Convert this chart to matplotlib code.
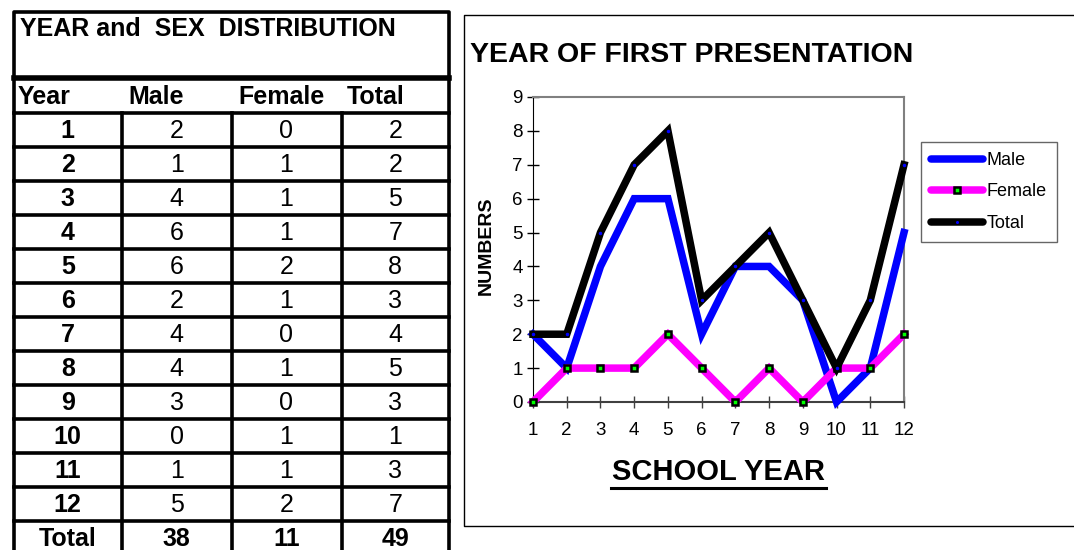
import numpy as np
import matplotlib.pyplot as plt
from matplotlib.lines import Line2D

plt.rcParams['font.family'] = ['Liberation Sans', 'DejaVu Sans']

years = list(range(1, 13))
male = [2, 1, 4, 6, 6, 2, 4, 4, 3, 0, 1, 5]
female = [0, 1, 1, 1, 2, 1, 0, 1, 0, 1, 1, 2]
total = [2, 2, 5, 7, 8, 3, 4, 5, 3, 1, 3, 7]
sum_row = ["Total", "38", "11", "49"]
header = ["Year", "Male", "Female", "Total"]

W, H = 1074, 550
fig = plt.figure(figsize=(W / 100, H / 100), dpi=100)

# overlay in pixel coordinates for the table and the chart frame
bg = fig.add_axes([0, 0, 1, 1])
bg.set_xlim(0, W)
bg.set_ylim(H, 0)
bg.axis("off")

lw = 2.6
col_x = [13.5, 122, 231.5, 341.5, 449]
row_h = 34
top_row = 112.5

# title box
bg.plot([13.5, 13.5, 449, 449], [78, 12, 12, 78], color="black", lw=lw, solid_capstyle="projecting")
bg.plot([13.5, 449], [78, 78], color="black", lw=4)
bg.text(20, 29, "YEAR and  SEX  DISTRIBUTION", fontsize=18, fontweight="bold", va="center", ha="left")

# header row
hx = [18, 128, 238, 347]
for x, h in zip(hx, header):
    bg.text(x, 97, h, fontsize=18, fontweight="bold", va="center", ha="left")

# grid lines
bg.plot([col_x[0], col_x[0]], [78, H + 5], color="black", lw=lw)
bg.plot([col_x[-1], col_x[-1]], [78, H + 5], color="black", lw=lw)
for k in range(13):
    y = top_row + k * row_h
    bg.plot([col_x[0], col_x[-1]], [y, y], color="black", lw=lw)
for x in col_x[1:-1]:
    bg.plot([x, x], [top_row, H + 5], color="black", lw=lw)

centers = [(col_x[i] + col_x[i + 1]) / 2 for i in range(4)]
rows = [[str(y), str(m), str(f), str(t)] for y, m, f, t in zip(years, male, female, total)]
rows.append(sum_row)
for r, vals in enumerate(rows):
    yc = top_row + (r + 0.5) * row_h + 1
    last = r == len(rows) - 1
    for c, v in enumerate(vals):
        bold = c == 0 or last
        bg.text(centers[c], yc, v, fontsize=18, fontweight="bold" if bold else "normal",
                va="center", ha="center")

# chart panel frame
bg.plot([1090, 463.5, 463.5, 1090], [15, 15, 526, 526], color="black", lw=1)

bg.text(470, 55, "YEAR OF FIRST PRESENTATION", fontsize=20.5, fontweight="bold", va="center", ha="left")
bg.text(486, 246, "NUMBERS", fontsize=14, fontweight="bold", rotation=90, va="center", ha="center")
bg.text(718.5, 472, "SCHOOL YEAR", fontsize=21, fontweight="bold", va="center", ha="center")
bg.plot([611, 826], [488, 488], color="black", lw=2.2)

# line chart
ax = fig.add_axes([533 / W, (H - 402) / H, (904 - 533) / W, (402 - 97) / H])
ax.set_xlim(1, 12)
ax.set_ylim(0, 9)
lw_line = 5.4
ax.plot(years, male, color="#0000ff", lw=lw_line, marker="o", ms=1.2, mfc="#0000ff", mec="#0000ff", solid_joinstyle="miter", clip_on=False, zorder=3)
ax.plot(years, female, color="#ff00ff", lw=lw_line, marker="s", ms=5, mfc="#00ff00", mec="black", mew=1.8, solid_joinstyle="miter", clip_on=False, zorder=4)
ax.plot(years, total, color="black", lw=lw_line, marker="o", ms=1.5, mfc="#0000ff", mec="#0000ff", solid_joinstyle="miter", clip_on=False, zorder=5)

ax.set_xticks(years)
ax.set_yticks(range(0, 10))
ax.tick_params(axis="both", direction="inout", length=9, width=1, labelsize=13.5)
ax.tick_params(axis="x", pad=10, colors="#404040", labelcolor="black")
ax.tick_params(axis="y", pad=3)
ax.spines["left"].set_color("black")
ax.spines["bottom"].set_color("#404040")
ax.spines["bottom"].set_linewidth(1.5)
ax.spines["top"].set_color("#808080")
ax.spines["right"].set_color("#808080")
ax.spines["top"].set_linewidth(1.5)
ax.spines["right"].set_linewidth(1.5)

handles = [
    Line2D([], [], color="#0000ff", lw=lw_line, solid_capstyle="round"),
    Line2D([], [], color="#ff00ff", lw=lw_line, solid_capstyle="round", marker="s", ms=5, mfc="#00ff00", mec="black", mew=1.8),
    Line2D([], [], color="black", lw=lw_line, solid_capstyle="round", marker="o", ms=1.2, mfc="#0000ff", mec="#0000ff"),
]
leg = fig.legend(handles, ["Male", "Female", "Total"], loc="upper left",
                 bbox_to_anchor=(921 / W, 1 - 142 / H), fontsize=13, frameon=True,
                 fancybox=False, handlelength=2.9, handletextpad=0.2, labelspacing=0.8,
                 borderpad=0.55, borderaxespad=0)
leg.get_frame().set_edgecolor("#404040")
leg.get_frame().set_linewidth(1)

plt.savefig("out.png", dpi=100)
